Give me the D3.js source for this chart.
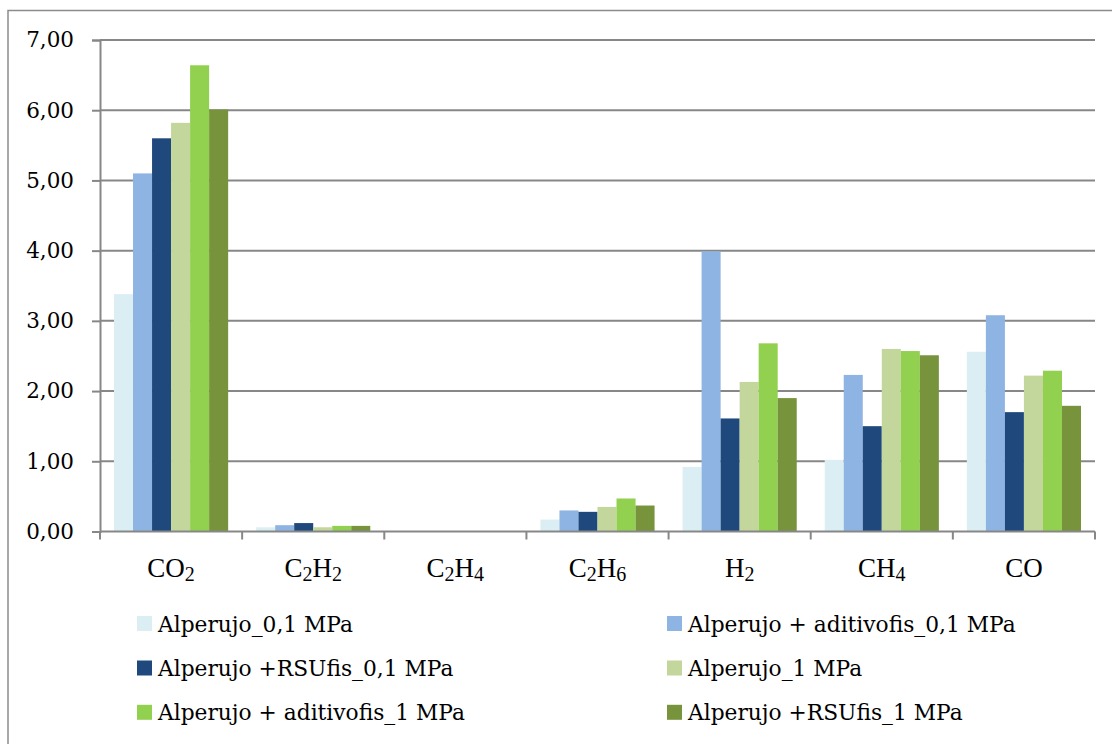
<!DOCTYPE html>
<html>
<head>
<meta charset="utf-8">
<script src="https://cdn.jsdelivr.net/npm/d3@7"></script>
<style>
  html, body { margin: 0; padding: 0; background: #fff; }
  svg { display: block; }
</style>
</head>
<body>
<svg id="chart" width="1112" height="744"></svg>
<script>
// Gas species (base formula + subscript parts)
const categories = ["CO2", "C2H2", "C2H4", "C2H6", "H2", "CH4", "CO"];
const categoryParts = [
  [["CO", false], ["2", true]],
  [["C", false], ["2", true], ["H", false], ["2", true]],
  [["C", false], ["2", true], ["H", false], ["4", true]],
  [["C", false], ["2", true], ["H", false], ["6", true]],
  [["H", false], ["2", true]],
  [["CH", false], ["4", true]],
  [["CO", false]]
];

const seriesNames = [
  "Alperujo_0,1 MPa",
  "Alperujo + aditivofis_0,1 MPa",
  "Alperujo +RSUfis_0,1 MPa",
  "Alperujo_1 MPa",
  "Alperujo + aditivofis_1 MPa",
  "Alperujo +RSUfis_1 MPa"
];
const seriesColors = ["#DAEEF3", "#8EB4E3", "#1F497D", "#C3D69B", "#92D050", "#77933C"];

// Values per series, one per gas
const alperujo01   = [3.38, 0.06, 0.00, 0.17, 0.92, 1.02, 2.56];
const aditivo01    = [5.10, 0.09, 0.00, 0.30, 3.99, 2.23, 3.08];
const rsu01        = [5.60, 0.12, 0.00, 0.28, 1.61, 1.50, 1.70];
const alperujo1    = [5.82, 0.06, 0.00, 0.35, 2.13, 2.60, 2.22];
const aditivo1     = [6.64, 0.08, 0.00, 0.47, 2.68, 2.57, 2.29];
const rsu1         = [6.01, 0.08, 0.00, 0.37, 1.90, 2.51, 1.79];
const seriesValues = [alperujo01, aditivo01, rsu01, alperujo1, aditivo1, rsu1];

const yTicks = [0, 1, 2, 3, 4, 5, 6, 7];
const yTickLabels = ["0,00", "1,00", "2,00", "3,00", "4,00", "5,00", "6,00", "7,00"];

const svg = d3.select("#chart");
const gridColor = "#878787";
const plotLeft = 100, plotRight = 1095, plotTop = 40, plotBottom = 531.5;

// outer frame
svg.append("rect")
  .attr("x", 8).attr("y", 10.5)
  .attr("width", 1130).attr("height", 760)
  .attr("fill", "none").attr("stroke", "#8c8c8c").attr("stroke-width", 1.5);

const x0 = d3.scaleBand().domain(categories).range([plotLeft, plotRight]).padding(0);
const bw = x0.bandwidth();
const x1 = d3.scaleBand().domain(d3.range(seriesNames.length)).range([14, bw - 14]).padding(0);
const y = d3.scaleLinear().domain([0, 7]).range([plotBottom, plotTop]);

// horizontal gridlines
svg.append("g").selectAll("line")
  .data(yTicks.filter(t => t > 0))
  .join("line")
  .attr("x1", plotLeft).attr("x2", plotRight)
  .attr("y1", d => y(d)).attr("y2", d => y(d))
  .attr("stroke", gridColor).attr("stroke-width", 2);

// bars
const groups = svg.append("g").selectAll("g")
  .data(categories)
  .join("g")
  .attr("transform", d => `translate(${x0(d)},0)`);

groups.selectAll("rect")
  .data((c, ci) => seriesValues.map((vals, si) => ({ si, v: vals[ci] })))
  .join("rect")
  .attr("x", d => x1(d.si))
  .attr("width", x1.bandwidth())
  .attr("y", d => y(d.v))
  .attr("height", d => y(0) - y(d.v))
  .attr("fill", d => seriesColors[d.si]);

// y axis
const yAxis = d3.axisLeft(y).tickValues(yTicks).tickSize(8)
  .tickFormat((d, i) => yTickLabels[i]).tickPadding(18);
const gy = svg.append("g").attr("transform", `translate(${plotLeft},0)`).call(yAxis);
gy.select(".domain").attr("stroke", gridColor).attr("stroke-width", 2);
gy.selectAll(".tick line").attr("stroke", gridColor).attr("stroke-width", 2);
gy.selectAll(".tick text")
  .attr("font-family", "'DejaVu Serif', serif")
  .attr("font-size", 21.5).attr("fill", "#000");

// x axis line and boundary ticks
svg.append("line")
  .attr("x1", plotLeft).attr("x2", plotRight)
  .attr("y1", plotBottom).attr("y2", plotBottom)
  .attr("stroke", gridColor).attr("stroke-width", 2);
const boundaries = categories.map(c => x0(c)).concat([plotRight]);
svg.append("g").selectAll("line")
  .data(boundaries)
  .join("line")
  .attr("x1", d => d).attr("x2", d => d)
  .attr("y1", plotBottom).attr("y2", plotBottom + 8)
  .attr("stroke", gridColor).attr("stroke-width", 2);

// category labels with subscripts
const xl = svg.append("g").selectAll("text")
  .data(categories)
  .join("text")
  .attr("x", d => x0(d) + bw / 2)
  .attr("y", 577)
  .attr("text-anchor", "middle")
  .attr("font-family", "'Liberation Serif', 'Times New Roman', serif")
  .attr("font-size", 27)
  .attr("fill", "#000");
xl.each(function(d, i) {
  const t = d3.select(this);
  categoryParts[i].forEach(([s, sub]) => {
    t.append("tspan")
      .attr("font-size", sub ? 20 : 27)
      .attr("baseline-shift", sub ? "-20%" : null)
      .text(s);
  });
});

// legend
const legendRows = [623.5, 668, 712.3];
const legendCols = [137, 667];
seriesNames.forEach((name, i) => {
  const col = i % 2, row = Math.floor(i / 2);
  const cx = legendCols[col], cy = legendRows[row];
  svg.append("rect")
    .attr("x", cx).attr("y", cy - 7.5)
    .attr("width", 15).attr("height", 15)
    .attr("fill", seriesColors[i]);
  svg.append("text")
    .attr("x", cx + 21).attr("y", cy + 8)
    .attr("font-family", "'DejaVu Serif', serif")
    .attr("font-size", 21.75)
    .attr("fill", "#000")
    .text(name);
});
</script>
</body>
</html>
